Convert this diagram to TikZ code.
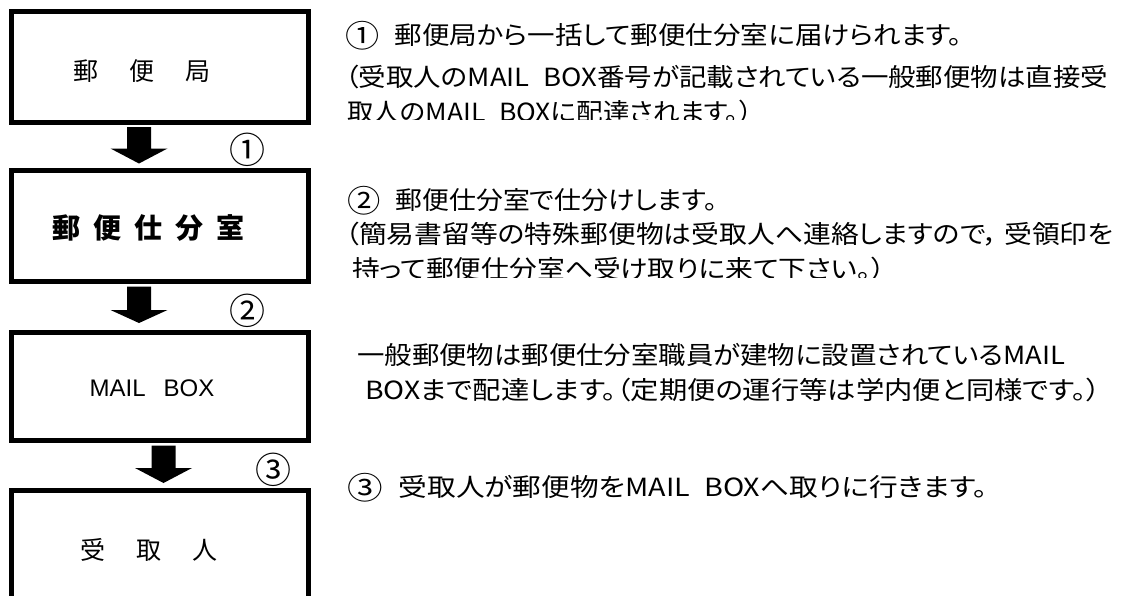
\documentclass[tikz,border=0pt]{standalone}
\usepackage{fontspec}
\usepackage{graphicx}
\usetikzlibrary{calc}
\setmainfont{Noto Sans CJK JP}[RawFeature=+palt]
\newfontfamily\latinfont{Liberation Sans}
\newcommand\fitline[2]{\resizebox{#1pt}{\height}{#2}}
\newcommand\bignum[1]{\raisebox{-2.5pt}{\fontsize{31}{30}\selectfont #1}}
% block arrow: #1 from node, #2 to node, #3 x offset, #4 gap above target, #5 head length
\newcommand\blockarrow[5]{%
  \fill ($(#1.south)+(#3-12,5)$) -- ($(#1.south)+(#3+12,5)$)
     -- ($(#2.north)+(#3+12,-#4-#5)$) -- ($(#2.north)+(#3+28.5,-#4-#5)$)
     -- ($(#2.north)+(#3,-#4)$)
     -- ($(#2.north)+(#3-28.5,-#4-#5)$) -- ($(#2.north)+(#3-12,-#4-#5)$) -- cycle;}
\begin{document}
\begin{tikzpicture}[x=1pt,y=-1pt,
  box/.style={draw,line width=5pt,minimum width=297pt,inner sep=0pt,outer sep=0pt},
  boxtext/.style={inner sep=0pt,font=\fontsize{25}{30}\selectfont},
  body/.style={inner sep=0pt,anchor=base west,font=\fontsize{25}{30}\selectfont},
  num/.style={inner sep=0pt,font=\fontsize{36}{40}\selectfont}]
\clip (0,0) rectangle (1126,595);
\fill[white] (0,0) rectangle (1126,595);

% boxes
\node[box,minimum height=111pt] (b1) at (160,66.5) {};
\node[box,minimum height=111pt] (b2) at (160,226) {};
\node[box,minimum height=108pt] (b3) at (160,386.5) {};
\node[box,minimum height=150pt] (b4) at (160,565.5) {};

% box texts
\node[boxtext] (t1) at (141.5,71) {郵\hspace{31pt}便\hspace{31pt}局};
\node[boxtext,font=\fontsize{28}{30}\selectfont\bfseries] (t2) at (148.5,228) {郵\hspace{13pt}便\hspace{13pt}仕\hspace{13pt}分\hspace{13pt}室};
\node[boxtext,font=\fontsize{24}{28}\selectfont\latinfont] (t3) at (152,388) {MAIL\hspace{18pt}BOX};
\node[boxtext] (t4) at (148.5,550) {受\hspace{31pt}取\hspace{31pt}人};

% block arrows
\blockarrow{b1}{b2}{-21}{7}{15}
\blockarrow{b2}{b3}{-21}{9.5}{13}
\blockarrow{b3}{b4}{3.5}{7.5}{15}

% step numbers
\node[num] (n1) at (247,150) {①};
\node[num] (n2) at (247,311) {②};
\node[num] (n3) at (273,470) {③};

% explanations
\node[body] (l1) at (345,44.5) {\fitline{617}{\bignum{①}\hspace{14pt}郵便局から一括して郵便仕分室に届けられます。}};
\node[body] (l2) at (345,86.5) {\fitline{763}{（受取人のMAIL\hspace{0.5em}BOX番号が記載されている一般郵便物は直接受}};
\begin{scope}
\clip (300,90) rectangle (1126,119);
\node[body] (l3) at (347,121.5) {\fitline{405}{取人のMAIL\hspace{0.5em}BOXに配達されます。）}};
\end{scope}

\node[body] (l4) at (347,209.5) {\fitline{370}{\bignum{②}\hspace{14pt}郵便仕分室で仕分けします。}};
\node[body] (l5) at (345,243) {\fitline{768}{（簡易書留等の特殊郵便物は受取人へ連絡しますので，\hspace{0.2em}受領印を}};
\begin{scope}
\clip (300,250) rectangle (1126,277);
\node[body] (l6) at (352,278.5) {\fitline{533}{持って郵便仕分室へ受け取りに来て下さい。）}};
\end{scope}

\node[body] (l7) at (357,364) {\fitline{708}{一般郵便物は郵便仕分室職員が建物に設置されているMAIL}};
\node[body] (l8) at (365,399.5) {\fitline{735}{BOXまで配達します。（定期便の運行等は学内便と同様です。）}};

\node[body] (l9) at (347,496.5) {\fitline{640}{\bignum{③}\hspace{14pt}受取人が郵便物をMAIL\hspace{0.5em}BOXへ取りに行きます。}};
\end{tikzpicture}
\end{document}
